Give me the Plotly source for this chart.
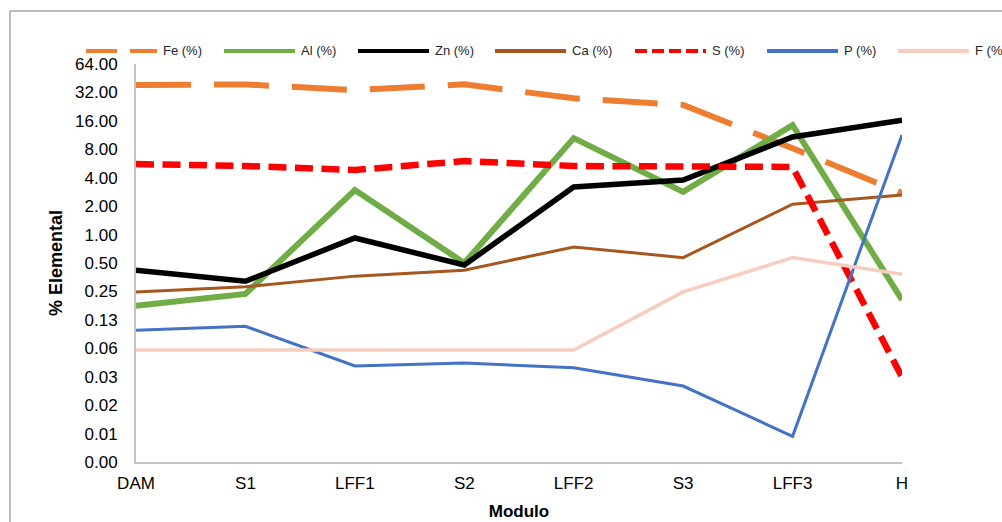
import plotly.graph_objects as go

# Sampling modules along the line
modulos = ["DAM", "S1", "LFF1", "S2", "LFF2", "S3", "LFF3", "H"]

# Elemental composition (%) per module
fe = [38.3, 38.9, 33.9, 39.0, 27.7, 23.6, 8.2, 2.75]
al = [0.176, 0.235, 2.96, 0.50, 10.5, 2.83, 14.4, 0.203]
zn = [0.42, 0.32, 0.92, 0.476, 3.19, 3.78, 10.8, 16.3]
ca = [0.247, 0.28, 0.363, 0.42, 0.74, 0.57, 2.1, 2.62]
s = [5.58, 5.32, 4.83, 6.0, 5.32, 5.32, 5.2, 0.031]
p = [0.097, 0.107, 0.0406, 0.0437, 0.0388, 0.0249, 0.0073, 11.3]
f = [0.06, 0.06, 0.06, 0.06, 0.06, 0.247, 0.57, 0.38]

# Log2 axis ticks and their printed labels
y_ticks = [2.0 ** k for k in range(-8, 7)]
y_tick_labels = ["0.00", "0.01", "0.02", "0.03", "0.06", "0.13", "0.25", "0.50",
                 "1.00", "2.00", "4.00", "8.00", "16.00", "32.00", "64.00"]

series = [
    ("Fe (%)", fe, "#ED7D31", 6, "55px,23px", "31px,13px"),
    ("Al (%)", al, "#70AD47", 6, "solid", "solid"),
    ("Zn (%)", zn, "#000000", 5.5, "solid", "solid"),
    ("Ca (%)", ca, "#A5571F", 3, "solid", "solid"),
    ("S (%)", s, "#FF0000", 6.5, "18px,8.5px", "12px,5px"),
    ("P (%)", p, "#4472C4", 3, "solid", "solid"),
    ("F (%)", f, "#F6CDBF", 3.5, "solid", "solid"),
]

W, H = 1002, 522
L, R, T, B = 136, 100, 64, 60
PW, PH = W - L - R, H - T - B


def px_x(v):
    return (v - L) / PW


def px_y(v):
    return (H - B - v) / PH


fig = go.Figure()
for name, vals, color, width, dash, _ in series:
    fig.add_trace(go.Scatter(
        x=modulos, y=vals, name=name, mode="lines",
        line=dict(color=color, width=width, dash=dash),
        showlegend=False,
    ))

shapes = []
annotations = []

# Legend row along the top
legend_x = [86, 224, 358, 495, 635, 767, 898]
legend_y = 51
for (name, _, color, width, _, ldash), x0 in zip(series, legend_x):
    shapes.append(dict(
        type="line", xref="paper", yref="paper",
        x0=px_x(x0), x1=px_x(x0 + 71), y0=px_y(legend_y), y1=px_y(legend_y),
        line=dict(color=color, width=4, dash=ldash),
    ))
    annotations.append(dict(
        xref="paper", yref="paper", x=px_x(x0 + 75), y=px_y(legend_y),
        xanchor="left", yanchor="middle", text=name, showarrow=False,
        font=dict(family="Liberation Sans, Arial, sans-serif", size=13, color="#262626"),
    ))

# Chart-area border (top and left edges)
border = dict(color="#A8A8A8", width=1.5)
shapes.append(dict(type="line", xref="paper", yref="paper",
                   x0=px_x(10), x1=px_x(W + 5), y0=px_y(11), y1=px_y(11), line=border))
shapes.append(dict(type="line", xref="paper", yref="paper",
                   x0=px_x(10), x1=px_x(10), y0=px_y(11), y1=px_y(H + 5), line=border))

tick_font = dict(family="Liberation Sans, Arial, sans-serif", size=17, color="#000000")
title_font = dict(family="Liberation Sans, Arial, sans-serif", size=17, color="#000000")

fig.update_layout(
    width=W, height=H,
    margin=dict(l=L, r=R, t=T, b=B, pad=0),
    paper_bgcolor="white", plot_bgcolor="white",
    shapes=shapes, annotations=annotations,
    xaxis=dict(
        type="category", range=[0, 7], automargin=False,
        showgrid=False, zeroline=False,
        showline=True, linecolor="#C4C4C4", linewidth=2,
        ticks="", tickfont=tick_font, ticklabelstandoff=5,
        title=dict(text="<b>Modulo</b>", font=title_font, standoff=13),
    ),
    yaxis=dict(
        type="log", range=[-8 * 0.30103, 6 * 0.30103], automargin=False,
        tickvals=y_ticks, ticktext=y_tick_labels,
        showgrid=False, zeroline=False,
        showline=True, linecolor="#C4C4C4", linewidth=2,
        ticks="", tickfont=tick_font, ticklabelstandoff=13,
        title=dict(text="<b>% Elemental</b>", font=dict(title_font, size=18), standoff=8),
    ),
)

fig.write_html("out.html")
